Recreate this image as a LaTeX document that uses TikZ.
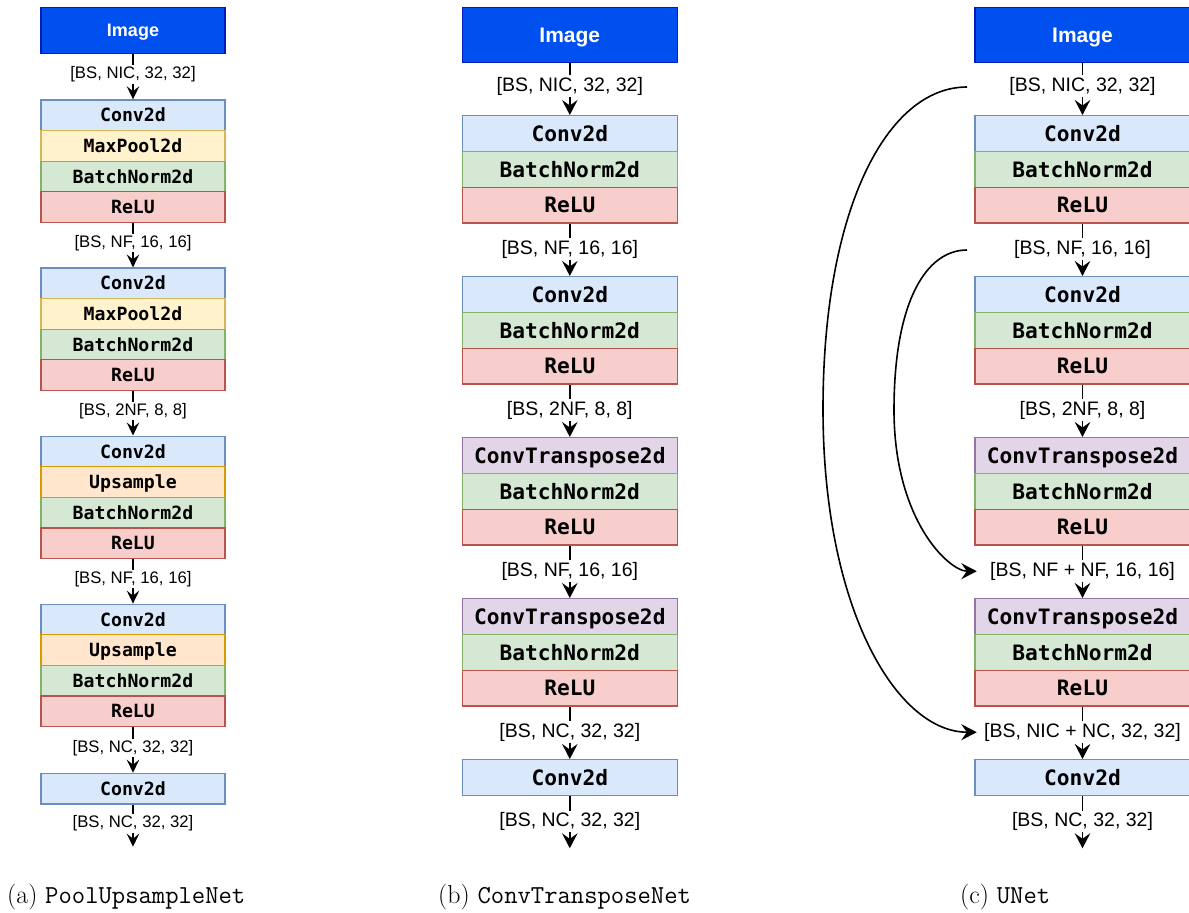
\documentclass[tikz,border=0pt]{standalone}
\usepackage{fontspec}
\newfontfamily\dvmono{DejaVu Sans Mono}
\newfontfamily\libsans{Liberation Sans}
\usetikzlibrary{arrows.meta}

\definecolor{convF}{HTML}{DAE8FC}\definecolor{convD}{HTML}{6C8EBF}
\definecolor{poolF}{HTML}{FFF2CC}\definecolor{poolD}{HTML}{D6B656}
\definecolor{normF}{HTML}{D5E8D4}\definecolor{normD}{HTML}{82B366}
\definecolor{reluF}{HTML}{F8CECC}\definecolor{reluD}{HTML}{B85450}
\definecolor{upF}{HTML}{FFE6CC}\definecolor{upD}{HTML}{D79B00}
\definecolor{tconvF}{HTML}{E1D5E7}\definecolor{tconvD}{HTML}{9673A6}
\definecolor{imgF}{HTML}{0050EF}\definecolor{imgD}{HTML}{001DBC}

\tikzset{
  layerA/.style={draw, line width=1.2pt, inner sep=0pt, anchor=north,
    minimum width=184pt, minimum height=30.6pt, text height=13.3pt, text depth=0pt,
    font=\dvmono\bfseries\fontsize{18.2pt}{20pt}\selectfont},
  layerB/.style={draw, line width=1.4pt, inner sep=0pt, anchor=north,
    minimum width=215pt, minimum height=35.8pt, text height=15.5pt, text depth=0pt,
    font=\dvmono\bfseries\fontsize{21.2pt}{23pt}\selectfont},
  conv/.style={fill=convF, draw=convD},
  pool/.style={fill=poolF, draw=poolD},
  norm/.style={fill=normF, draw=normD},
  relu/.style={fill=reluF, draw=reluD},
  upsm/.style={fill=upF, draw=upD},
  tconv/.style={fill=tconvF, draw=tconvD},
  imageA/.style={draw=imgD, fill=imgF, line width=1.2pt, inner sep=0pt,
    minimum width=184pt, minimum height=46pt, text=white, text height=12.9pt, text depth=0pt,
    font=\libsans\bfseries\fontsize{18pt}{20pt}\selectfont},
  imageB/.style={draw=imgD, fill=imgF, line width=1.4pt, inner sep=0pt,
    minimum width=215pt, minimum height=55pt, text=white, text height=15pt, text depth=0pt,
    font=\libsans\bfseries\fontsize{21pt}{23pt}\selectfont},
  shapeA/.style={inner sep=1.5pt, font=\libsans\fontsize{16.7pt}{19pt}\selectfont},
  shapeB/.style={inner sep=1.5pt, font=\libsans\fontsize{19.5pt}{22pt}\selectfont},
  linkA/.style={line width=1.5pt},
  flowA/.style={line width=1.5pt, -{Stealth[length=13pt,width=12.5pt,inset=5pt]}},
  linkB/.style={line width=1.8pt},
  flowB/.style={line width=1.8pt, -{Stealth[length=15pt,width=15.5pt,inset=5.5pt]}},
  skip/.style={line width=1.6pt, -{Stealth[length=15.5pt,width=16pt,inset=5.5pt]}},
  caption/.style={anchor=base west, inner sep=0pt, font=\fontsize{25.9pt}{30pt}\selectfont}
}

\begin{document}
\begin{tikzpicture}[x=1pt, y=-1pt]
\useasboundingbox (0,0) rectangle (1189,913);

% ---------------- (a) PoolUpsampleNet ----------------
\node[imageA] (aImg) at (133,30.5) {Image};
\node[shapeA] (aL0) at (133,74.5) {[BS, NIC, 32, 32]};
\node[layerA,conv] (a1c) at (133,99.3) {Conv2d};
\node[layerA,pool] (a1p) at (133,129.9) {MaxPool2d};
\node[layerA,norm] (a1n) at (133,160.5) {BatchNorm2d};
\node[layerA,relu] (a1r) at (133,191.1) {ReLU};
\node[shapeA] (aL1) at (133,243) {[BS, NF, 16, 16]};
\node[layerA,conv] (a2c) at (133,267.4) {Conv2d};
\node[layerA,pool] (a2p) at (133,298.0) {MaxPool2d};
\node[layerA,norm] (a2n) at (133,328.6) {BatchNorm2d};
\node[layerA,relu] (a2r) at (133,359.2) {ReLU};
\node[shapeA] (aL2) at (133,411) {[BS, 2NF, 8, 8]};
\node[layerA,conv] (a3c) at (133,435.5) {Conv2d};
\node[layerA,upsm] (a3p) at (133,466.1) {Upsample};
\node[layerA,norm] (a3n) at (133,496.7) {BatchNorm2d};
\node[layerA,relu] (a3r) at (133,527.3) {ReLU};
\node[shapeA] (aL3) at (133,579) {[BS, NF, 16, 16]};
\node[layerA,conv] (a4c) at (133,603.6) {Conv2d};
\node[layerA,upsm] (a4p) at (133,634.2) {Upsample};
\node[layerA,norm] (a4n) at (133,664.8) {BatchNorm2d};
\node[layerA,relu] (a4r) at (133,695.4) {ReLU};
\node[shapeA] (aL4) at (133,748) {[BS, NC, 32, 32]};
\node[layerA,conv] (a5c) at (133,772.7) {Conv2d};
\node[shapeA] (aL5) at (133,823.5) {[BS, NC, 32, 32]};
\coordinate (aEnd) at (133,846.7);

\draw[linkA] (aImg) -- (aL0);  \draw[flowA] (aL0) -- (a1c);
\draw[linkA] (a1r) -- (aL1);   \draw[flowA] (aL1) -- (a2c);
\draw[linkA] (a2r) -- (aL2);   \draw[flowA] (aL2) -- (a3c);
\draw[linkA] (a3r) -- (aL3);   \draw[flowA] (aL3) -- (a4c);
\draw[linkA] (a4r) -- (aL4);   \draw[flowA] (aL4) -- (a5c);
\draw[linkA] (a5c) -- (aL5);   \draw[flowA] (aL5) -- (aEnd);

% ---------------- (b) ConvTransposeNet ----------------
\node[imageB] (bImg) at (569.8,34.8) {Image};
\node[shapeB] (bL0) at (569.8,86) {[BS, NIC, 32, 32]};
\node[layerB,conv] (b1c) at (569.8,115) {Conv2d};
\node[layerB,norm] (b1n) at (569.8,150.8) {BatchNorm2d};
\node[layerB,relu] (b1r) at (569.8,186.6) {ReLU};
\node[shapeB] (bL1) at (569.8,249.2) {[BS, NF, 16, 16]};
\node[layerB,conv] (b2c) at (569.8,276) {Conv2d};
\node[layerB,norm] (b2n) at (569.8,311.8) {BatchNorm2d};
\node[layerB,relu] (b2r) at (569.8,347.6) {ReLU};
\node[shapeB] (bL2) at (569.8,410.2) {[BS, 2NF, 8, 8]};
\node[layerB,tconv] (b3c) at (569.8,437) {ConvTranspose2d};
\node[layerB,norm] (b3n) at (569.8,472.8) {BatchNorm2d};
\node[layerB,relu] (b3r) at (569.8,508.6) {ReLU};
\node[shapeB] (bL3) at (569.8,571.2) {[BS, NF, 16, 16]};
\node[layerB,tconv] (b4c) at (569.8,598) {ConvTranspose2d};
\node[layerB,norm] (b4n) at (569.8,633.8) {BatchNorm2d};
\node[layerB,relu] (b4r) at (569.8,669.6) {ReLU};
\node[shapeB] (bL4) at (569.8,732.2) {[BS, NC, 32, 32]};
\node[layerB,conv] (b5c) at (569.8,759) {Conv2d};
\node[shapeB] (bL5) at (569.8,821.5) {[BS, NC, 32, 32]};
\coordinate (bEnd) at (569.8,848.3);

\draw[linkB] (bImg) -- (bL0);  \draw[flowB] (bL0) -- (b1c);
\draw[linkB] (b1r) -- (bL1);   \draw[flowB] (bL1) -- (b2c);
\draw[linkB] (b2r) -- (bL2);   \draw[flowB] (bL2) -- (b3c);
\draw[linkB] (b3r) -- (bL3);   \draw[flowB] (bL3) -- (b4c);
\draw[linkB] (b4r) -- (bL4);   \draw[flowB] (bL4) -- (b5c);
\draw[linkB] (b5c) -- (bL5);   \draw[flowB] (bL5) -- (bEnd);

% ---------------- (c) UNet ----------------
\node[imageB] (cImg) at (1082.5,34.8) {Image};
\node[shapeB] (cL0) at (1082.5,86) {[BS, NIC, 32, 32]};
\node[layerB,conv] (c1c) at (1082.5,115) {Conv2d};
\node[layerB,norm] (c1n) at (1082.5,150.8) {BatchNorm2d};
\node[layerB,relu] (c1r) at (1082.5,186.6) {ReLU};
\node[shapeB] (cL1) at (1082.5,249.2) {[BS, NF, 16, 16]};
\node[layerB,conv] (c2c) at (1082.5,276) {Conv2d};
\node[layerB,norm] (c2n) at (1082.5,311.8) {BatchNorm2d};
\node[layerB,relu] (c2r) at (1082.5,347.6) {ReLU};
\node[shapeB] (cL2) at (1082.5,410.2) {[BS, 2NF, 8, 8]};
\node[layerB,tconv] (c3c) at (1082.5,437) {ConvTranspose2d};
\node[layerB,norm] (c3n) at (1082.5,472.8) {BatchNorm2d};
\node[layerB,relu] (c3r) at (1082.5,508.6) {ReLU};
\node[shapeB, minimum width=211pt] (cL3) at (1082.5,571.2) {[BS, NF + NF, 16, 16]};
\node[layerB,tconv] (c4c) at (1082.5,598) {ConvTranspose2d};
\node[layerB,norm] (c4n) at (1082.5,633.8) {BatchNorm2d};
\node[layerB,relu] (c4r) at (1082.5,669.6) {ReLU};
\node[shapeB, minimum width=211pt] (cL4) at (1082.5,732.2) {[BS, NIC + NC, 32, 32]};
\node[layerB,conv] (c5c) at (1082.5,759) {Conv2d};
\node[shapeB] (cL5) at (1082.5,821.5) {[BS, NC, 32, 32]};
\coordinate (cEnd) at (1082.5,848.3);

\draw[linkB] (cImg) -- (cL0);  \draw[flowB] (cL0) -- (c1c);
\draw[linkB] (c1r) -- (cL1);   \draw[flowB] (cL1) -- (c2c);
\draw[linkB] (c2r) -- (cL2);   \draw[flowB] (cL2) -- (c3c);
\draw[linkB] (c3r) -- (cL3);   \draw[flowB] (cL3) -- (c4c);
\draw[linkB] (c4r) -- (cL4);   \draw[flowB] (cL4) -- (c5c);
\draw[linkB] (c5c) -- (cL5);   \draw[flowB] (cL5) -- (cEnd);

% skip connections
\coordinate (cSkip0) at (967,87);
\coordinate (cSkip1) at (967,250);
\draw[skip] (cSkip0) .. controls +(-80,0) and +(0,-200) .. (823,409)
                     .. controls +(0,200) and +(-80,0) .. (cL4.west);
\draw[skip] (cSkip1) .. controls +(-40,0) and +(0,-110) .. (894,410)
                     .. controls +(0,110) and +(-28,0) .. (cL3.west);

% captions
\node[caption] (capA) at (7,903) {(a) \texttt{PoolUpsampleNet}};
\node[caption] (capB) at (438,903) {(b) \texttt{ConvTransposeNet}};
\node[caption] (capC) at (960,903) {(c) \texttt{UNet}};
\end{tikzpicture}
\end{document}
